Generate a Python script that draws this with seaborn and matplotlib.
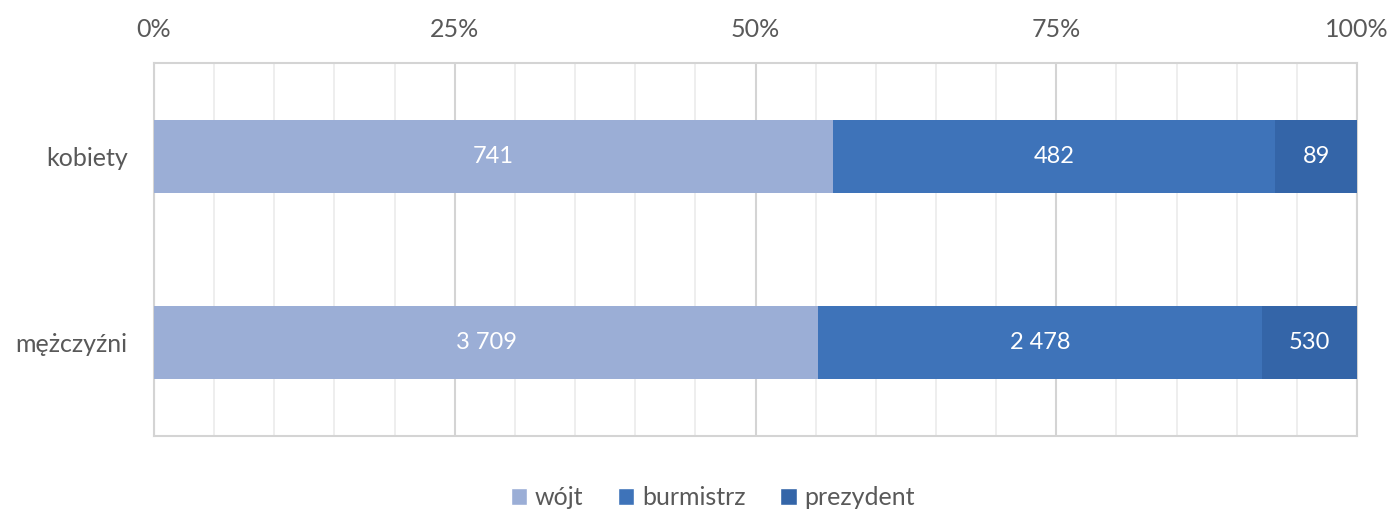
import matplotlib
matplotlib.use("Agg")
import matplotlib.pyplot as plt
import matplotlib.ticker as mticker
from matplotlib.patches import Patch
import pandas as pd
import seaborn as sns

categories = ["kobiety", "mężczyźni"]
series = ["wójt", "burmistrz", "prezydent"]
wojt = [741, 3709]
burmistrz = [482, 2478]
prezydent = [89, 530]
colors = ["#9BAED6", "#3E73B9", "#3465A8"]

df = pd.DataFrame({"kat": categories, "wójt": wojt, "burmistrz": burmistrz, "prezydent": prezydent})
tot = df[series].sum(axis=1)
pct = df[series].div(tot, axis=0) * 100
cum = pct.cumsum(axis=1)

sns.set_theme(style="white")
plt.rcParams["font.family"] = ["Lato", "DejaVu Sans"]
grey = "#595959"

fig, ax = plt.subplots(figsize=(13.92, 5.09), dpi=100)
fig.subplots_adjust(left=154/1392, right=1357/1392, top=1-63/509, bottom=1-436/509)

# draw cumulative widths from the widest so the shorter ones sit on top
for s, c in zip(series[::-1], colors[::-1]):
    sns.barplot(x=cum[s], y=df["kat"], color=c, orient="h", width=0.39,
                saturation=1, ax=ax, zorder=3, linewidth=0)

def fmt(v):
    return f"{v:,}".replace(",", " ")

for i in range(len(categories)):
    start = 0
    for s in series:
        w = pct.loc[i, s]
        ax.text(start + w / 2, i, fmt(int(df.loc[i, s])), ha="center", va="center",
                color="white", fontsize=17, zorder=4)
        start += w

ax.set_xlim(0, 100)
ax.set_ylim(1.5, -0.5)
ax.xaxis.tick_top()
ax.xaxis.set_major_locator(mticker.MultipleLocator(25))
ax.xaxis.set_minor_locator(mticker.MultipleLocator(5))
ax.xaxis.set_major_formatter(mticker.FuncFormatter(lambda v, p: f"{v:.0f}%"))
ax.grid(axis="x", which="minor", color="#EBEBEB", linewidth=1.2, zorder=0)
ax.grid(axis="x", which="major", color="#D4D4D4", linewidth=1.5, zorder=1)
ax.tick_params(axis="both", which="both", length=0, labelsize=18, labelcolor=grey)
ax.tick_params(axis="x", pad=16)
ax.tick_params(axis="y", pad=19)
ax.set_xlabel("")
ax.set_ylabel("")
for sp in ax.spines.values():
    sp.set_visible(True)
    sp.set_color("#D4D4D4")
    sp.set_linewidth(1.5)

handles = [Patch(facecolor=c, label=s) for s, c in zip(series, colors)]
fig.legend(handles=handles, loc="lower center", ncol=3, frameon=False,
           bbox_to_anchor=(0.512, -0.045), fontsize=18, handlelength=0.65,
           handleheight=0.65, handletextpad=0.3, columnspacing=1.4, labelcolor=grey)

fig.savefig("out.png", dpi=100)
